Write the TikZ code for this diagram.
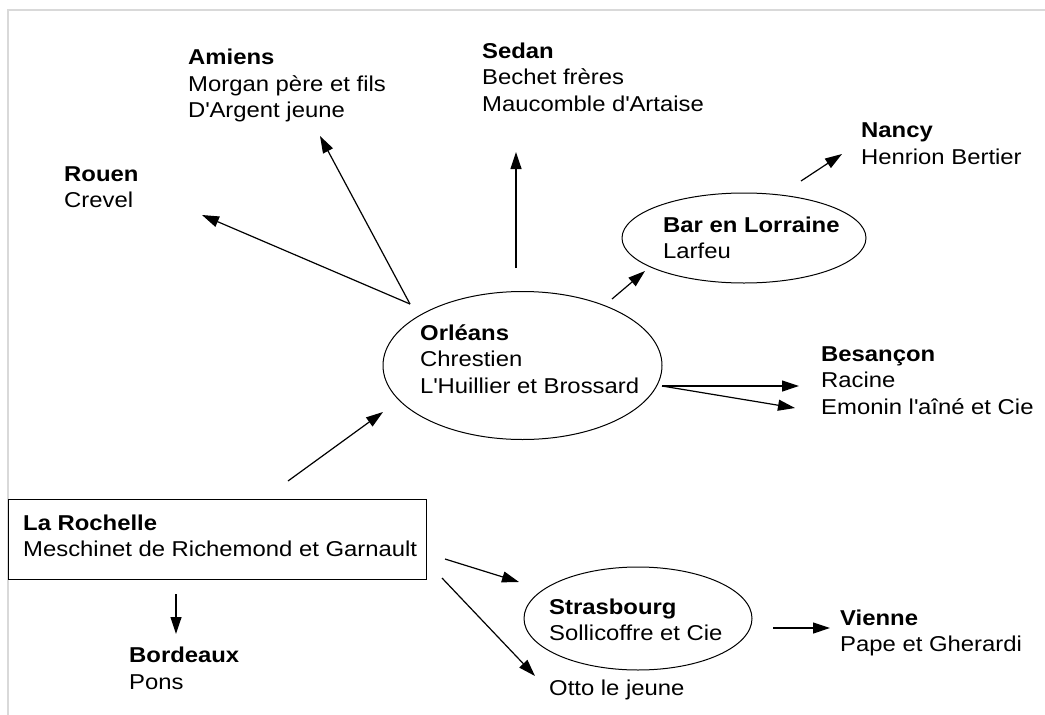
\documentclass[tikz,border=0pt]{standalone}
\usepackage{fontspec}
\setmainfont{Liberation Sans}[FakeStretch=1.11]
\usetikzlibrary{arrows.meta,shapes.geometric}
\begin{document}
\begin{tikzpicture}[x=1pt,y=-1pt,
  lbl/.style={anchor=base west, align=left, inner sep=0pt, font=\fontsize{21.5}{26.5}\selectfont},
  oval/.style={draw, ellipse, line width=1pt, inner sep=0pt},
  boxed/.style={draw, rectangle, line width=1pt, inner sep=0pt},
  arr/.style={-{Triangle[length=17pt,width=11pt]}, line width=1.2pt},
  frameline/.style={draw=black!15, line width=2pt}]
\useasboundingbox (0,0) rectangle (1045,715);
% frame
\coordinate (fTL) at (8,10);
\coordinate (fTR) at (1045,10);
\coordinate (fBL) at (8,715);
\draw[frameline] (fTR) -- (fTL) -- (fBL);

% shapes
\node[oval, minimum width=244pt, minimum height=90pt] (barE) at (744,238) {};
\node[oval, minimum width=279pt, minimum height=148pt] (orleansE) at (522.5,365.5) {};
\node[oval, minimum width=228pt, minimum height=103pt] (strasE) at (638,618.5) {};
\node[boxed, minimum width=418pt, minimum height=80pt] (rochelleBox) at (217,539) {};

% labels (anchored at the baseline of their last line)
\node[lbl] (rouen) at (64,207.5) {\textbf{Rouen}\\Crevel};
\node[lbl] (amiens) at (188,117.5) {\textbf{Amiens}\\Morgan père et fils\\D\textquotesingle Argent jeune};
\node[lbl] (sedan) at (482,111) {\textbf{Sedan}\\Bechet frères\\Maucomble d\textquotesingle Artaise};
\node[lbl] (nancy) at (861,164) {\textbf{Nancy}\\Henrion Bertier};
\node[lbl] (bar) at (663,258.5) {\textbf{Bar en Lorraine}\\Larfeu};
\node[lbl] (orleans) at (420,393) {\textbf{Orléans}\\Chrestien\\L\textquotesingle Huillier et Brossard};
\node[lbl] (besancon) at (821,414) {\textbf{Besançon}\\Racine\\Emonin l\textquotesingle aîné et Cie};
\node[lbl] (rochelle) at (23,556.5) {\textbf{La Rochelle}\\Meschinet de Richemond et Garnault};
\node[lbl] (bordeaux) at (129,689) {\textbf{Bordeaux}\\Pons};
\node[lbl] (strasbourg) at (549,640.5) {\textbf{Strasbourg}\\Sollicoffre et Cie};
\node[lbl] (otto) at (549,695.5) {Otto le jeune};
\node[lbl] (vienne) at (840,651.5) {\textbf{Vienne}\\Pape et Gherardi};

% connector end points
\coordinate (orlNW) at (410,304);
\coordinate (rouenIn) at (202,215);
\coordinate (amiensIn) at (320,136);
\coordinate (orlN) at (516,268);
\coordinate (sedanIn) at (516,152);
\coordinate (orlNE) at (612,299);
\coordinate (barIn) at (645,271);
\coordinate (barOut) at (801,181);
\coordinate (nancyIn) at (842,154);
\coordinate (orlE) at (662,386);
\coordinate (besIn1) at (799,386);
\coordinate (besIn2) at (795,408);
\coordinate (rocN) at (288,481);
\coordinate (orlIn) at (383,412);
\coordinate (rocS) at (176,594);
\coordinate (bordIn) at (176,634);
\coordinate (rocE1) at (445,559);
\coordinate (strasIn) at (519,582);
\coordinate (rocE2) at (442,578);
\coordinate (ottoIn) at (535,676);
\coordinate (strasOut) at (773,628);
\coordinate (vienneIn) at (830,628);

% connectors
\draw[arr] (orlNW) -- (rouenIn);
\draw[arr] (orlNW) -- (amiensIn);
\draw[arr] (orlN) -- (sedanIn);
\draw[arr] (orlNE) -- (barIn);
\draw[arr] (barOut) -- (nancyIn);
\draw[arr] (orlE) -- (besIn1);
\draw[arr] (orlE) -- (besIn2);
\draw[arr] (rocN) -- (orlIn);
\draw[arr] (rocS) -- (bordIn);
\draw[arr] (rocE1) -- (strasIn);
\draw[arr] (rocE2) -- (ottoIn);
\draw[arr] (strasOut) -- (vienneIn);
\end{tikzpicture}
\end{document}
